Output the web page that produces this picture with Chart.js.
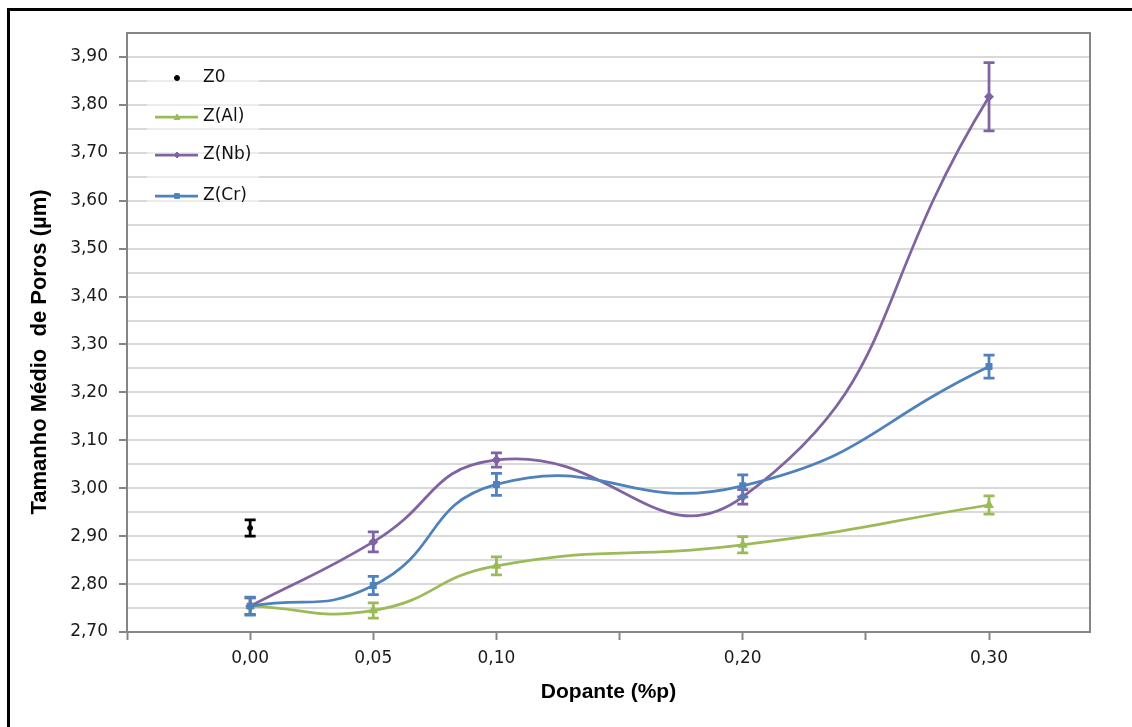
<!DOCTYPE html>
<html><head><meta charset="utf-8">
<script src="https://cdn.jsdelivr.net/npm/chart.js@4.4.0/dist/chart.umd.min.js"></script>
<style>
html,body{margin:0;padding:0;background:#fff;overflow:hidden;}
#wrap{position:relative;width:1132px;height:727px;overflow:hidden;}
#frame{position:absolute;left:7px;top:8px;width:1300px;height:900px;border-top:3px solid #000;border-left:3px solid #000;pointer-events:none;}
canvas{position:absolute;left:0;top:0;}
</style></head><body>
<div id="wrap"><canvas id="c" width="1132" height="727"></canvas><div id="frame"></div></div>
<script>
// ---- data ----
const doping = [0.00, 0.05, 0.10, 0.20, 0.30];
const xTickLabels = ['0,00', '0,05', '0,10', '0,20', '0,30'];
const z0Doping = [0.00];
const z0Values = [2.917];
const z0Errors = [0.017];
const alValues = [2.754, 2.745, 2.838, 2.882, 2.965];
const alErrors = [0.017, 0.016, 0.019, 0.017, 0.019];
const nbValues = [2.754, 2.888, 3.059, 2.982, 3.817];
const nbErrors = [0.017, 0.021, 0.015, 0.015, 0.071];
const crValues = [2.754, 2.797, 3.008, 3.005, 3.254];
const crErrors = [0.019, 0.019, 0.023, 0.023, 0.024];
const seriesLabels = ['Z0', 'Z(Al)', 'Z(Nb)', 'Z(Cr)'];
const xTitle = 'Dopante (%p)';
const yTitle = 'Tamanho Médio  de Poros (µm)';

// ---- styles ----
const C_AL = '#9BBB59', C_NB = '#8064A2', C_CR = '#4F81BD';
const AXIS = '#868686';
const tickFont = {family: 'DejaVu Sans', size: 17};
const titleFont = {family: 'Liberation Sans', size: 21, weight: 'bold'};

function pts(xs, ys) { return xs.map((x, i) => ({x: x, y: ys[i]})); }
function isMajor(v) { return Math.abs(Math.round(v * 10) - v * 10) < 1e-6; }

function drawMarker(ctx, style, r, x, y, color) {
  ctx.save();
  ctx.fillStyle = color; ctx.strokeStyle = color; ctx.lineWidth = 1;
  ctx.beginPath();
  if (style === 'circle') { ctx.arc(x, y, r, 0, Math.PI * 2); }
  else if (style === 'triangle') { ctx.moveTo(x, y - r); ctx.lineTo(x + r, y + r * 0.8); ctx.lineTo(x - r, y + r * 0.8); ctx.closePath(); }
  else if (style === 'rectRot') { ctx.moveTo(x, y - r); ctx.lineTo(x + r, y); ctx.lineTo(x, y + r); ctx.lineTo(x - r, y); ctx.closePath(); }
  else { ctx.rect(x - r * 0.8, y - r * 0.8, r * 1.6, r * 1.6); }
  ctx.fill(); ctx.stroke();
  ctx.restore();
}

const errorBars = {
  id: 'errorBars',
  afterDatasetDraw(chart, args) {
    const ds = chart.data.datasets[args.index];
    if (!ds.errors) return;
    const xs = chart.scales.x, ys = chart.scales.y, ctx = chart.ctx;
    ctx.save();
    ctx.strokeStyle = ds.borderColor;
    ctx.lineWidth = 2.75;
    ds.data.forEach((p, i) => {
      const e = ds.errors[i];
      const px = xs.getPixelForValue(p.x);
      const t = ys.getPixelForValue(p.y + e), b = ys.getPixelForValue(p.y - e);
      ctx.beginPath();
      ctx.moveTo(px, t); ctx.lineTo(px, b);
      ctx.moveTo(px - 5.5, t); ctx.lineTo(px + 5.5, t);
      ctx.moveTo(px - 5.5, b); ctx.lineTo(px + 5.5, b);
      ctx.stroke();
    });
    ctx.restore();
  }
};

const plotBorder = {
  id: 'plotBorder',
  beforeDatasetsDraw(chart) {
    const a = chart.chartArea, ctx = chart.ctx;
    ctx.save();
    ctx.strokeStyle = AXIS; ctx.lineWidth = 2;
    ctx.beginPath();
    ctx.moveTo(a.left, a.top); ctx.lineTo(a.right, a.top); ctx.lineTo(a.right, a.bottom);
    ctx.stroke();
    // legend background (lightens gridlines)
    ctx.fillStyle = 'rgba(255,255,255,0.5)';
    ctx.fillRect(147, 62, 112, 152);
    ctx.restore();
  }
};

const yAxisTitle = {
  id: 'yAxisTitle',
  afterDraw(chart) {
    const ctx = chart.ctx;
    ctx.save();
    ctx.translate(40, 352);
    ctx.rotate(-Math.PI / 2);
    ctx.fillStyle = '#000';
    ctx.font = 'bold 22px "Liberation Sans"';
    ctx.textAlign = 'center'; ctx.textBaseline = 'middle';
    ctx.fillText(yTitle, 0, 0);
    ctx.restore();
  }
};

const legendBox = {
  id: 'legendBox',
  afterDraw(chart) {
    const ctx = chart.ctx;
    const rows = [78, 117, 155, 196];
    ctx.save();
    chart.data.datasets.forEach((ds, i) => {
      const y = rows[i];
      if (ds.showLine !== false) {
        ctx.strokeStyle = ds.borderColor; ctx.lineWidth = 2.75;
        ctx.beginPath(); ctx.moveTo(155, y); ctx.lineTo(198, y); ctx.stroke();
      }
      drawMarker(ctx, ds.pointStyle, ds.pointRadius, 177, y, ds.borderColor);
      ctx.fillStyle = '#111';
      ctx.font = '17px "DejaVu Sans"';
      ctx.textBaseline = 'middle'; ctx.textAlign = 'left';
      ctx.fillText(ds.label, 203, y);
    });
    ctx.restore();
  }
};

function zeroPad(scale) { scale.paddingLeft = scale.paddingRight = scale.paddingTop = scale.paddingBottom = 0; }

new Chart(document.getElementById('c').getContext('2d'), {
  type: 'line',
  data: {
    datasets: [
      {label: seriesLabels[0], data: pts(z0Doping, z0Values), errors: z0Errors, borderColor: '#000', backgroundColor: '#000',
       showLine: false, pointStyle: 'circle', pointRadius: 2.5, order: 3},
      {label: seriesLabels[1], data: pts(doping, alValues), errors: alErrors, borderColor: C_AL, backgroundColor: C_AL,
       borderWidth: 2.75, tension: 0.5, pointStyle: 'triangle', pointRadius: 3, order: 2},
      {label: seriesLabels[2], data: pts(doping, nbValues), errors: nbErrors, borderColor: C_NB, backgroundColor: C_NB,
       borderWidth: 2.75, tension: 0.5, pointStyle: 'rectRot', pointRadius: 3, order: 1},
      {label: seriesLabels[3], data: pts(doping, crValues), errors: crErrors, borderColor: C_CR, backgroundColor: C_CR,
       borderWidth: 2.75, tension: 0.5, pointStyle: 'rect', pointRadius: 3, order: 0}
    ]
  },
  options: {
    responsive: false, animation: false, devicePixelRatio: 1,
    layout: {padding: {left: 0, top: 33, right: 42, bottom: 0}},
    plugins: {legend: {display: false}, tooltip: {enabled: false}},
    elements: {point: {borderWidth: 1}},
    scales: {
      x: {
        type: 'linear', min: -0.05, max: 0.341,
        ticks: {
          stepSize: 0.05, includeBounds: false, autoSkip: false, maxRotation: 0, padding: 8,
          font: tickFont, color: '#1a1a1a',
          callback(v) { const i = doping.findIndex(d => Math.abs(d - v) < 1e-6); return i >= 0 ? xTickLabels[i] : ''; }
        },
        grid: {drawOnChartArea: false, drawTicks: true, tickLength: 8, tickColor: AXIS, tickWidth: 2},
        border: {color: AXIS, width: 2},
        title: {display: true, text: xTitle, font: titleFont, color: '#000', padding: {top: 0, bottom: 22}},
        afterFit(scale) { scale.height = 95; zeroPad(scale); }
      },
      y: {
        type: 'linear', min: 2.70, max: 3.95,
        ticks: {
          stepSize: 0.05, autoSkip: false, padding: 11, font: tickFont, color: '#1a1a1a',
          callback(v) { return isMajor(v) ? v.toFixed(2).replace('.', ',') : ''; }
        },
        grid: {color: '#d9d9d9', lineWidth: 2, tickLength: 8, tickWidth: 2,
               tickColor: (c) => (c.tick && isMajor(c.tick.value)) ? AXIS : 'rgba(0,0,0,0)'},
        border: {color: AXIS, width: 2},
        title: {display: false},
        afterFit(scale) { scale.width = 127; zeroPad(scale); }
      }
    }
  },
  plugins: [errorBars, plotBorder, yAxisTitle, legendBox]
});
</script>
</body></html>
